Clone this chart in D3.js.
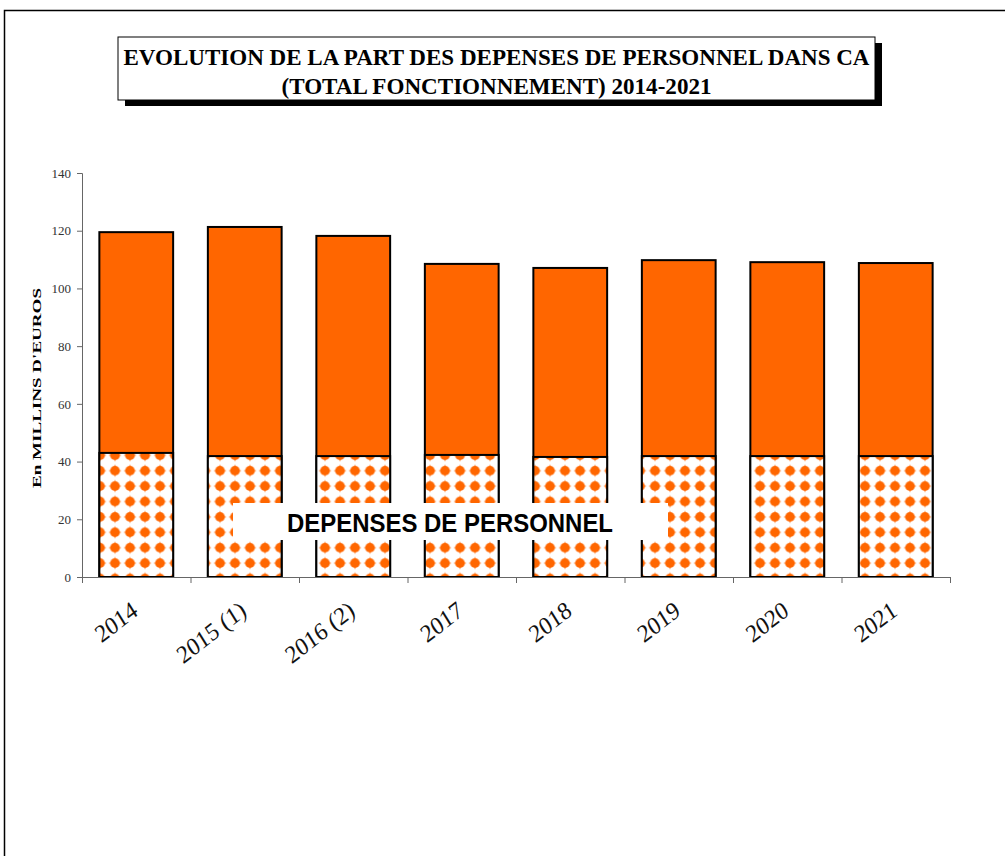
<!DOCTYPE html>
<html>
<head>
<meta charset="utf-8">
<script src="https://cdn.jsdelivr.net/npm/d3@7"></script>
<style>
  body { margin: 0; background: #fff; }
  svg { display: block; }
</style>
</head>
<body>
<svg id="chart" width="1005" height="856"></svg>
<script>

/*
 * DATA
 */

var years = ['2014', '2015 (1)', '2016 (2)', '2017', '2018', '2019', '2020', '2021'];
var totalFonctionnement = [119.5, 121.3, 118.2, 108.5, 107.1, 109.8, 109.1, 108.8];
var depensesPersonnel = [43.0, 41.9, 41.9, 42.3, 41.6, 41.9, 41.9, 41.9];
var yTicks = [0, 20, 40, 60, 80, 100, 120, 140];

var titleLines = ['EVOLUTION  DE LA PART DES DEPENSES DE PERSONNEL DANS CA', '(TOTAL FONCTIONNEMENT) 2014-2021'];
var yTitle = 'En  MILLINS  D\'EUROS';
var seriesLabel = 'DEPENSES  DE PERSONNEL';

/*
 * CONSTANTS
 */

var orange = '#ff6600';
var plot = { left: 82, right: 950, top: 173, bottom: 577 };

var svg = d3.select('#chart');

// fit a text to a given width (chart texts are squeezed like in the original)
function fitText(sel, width) {
  sel.attr('textLength', width).attr('lengthAdjust', 'spacingAndGlyphs');
}

/*
 * PATTERN (orange studs on white)
 */

var defs = svg.append('defs');
var pat = defs.append('pattern')
  .attr('id', 'dots')
  .attr('patternUnits', 'userSpaceOnUse')
  .attr('x', 92.5).attr('y', 1)
  .attr('width', 15).attr('height', 15.4);
pat.append('rect').attr('width', 15).attr('height', 15.4).attr('fill', '#fff');
pat.append('circle').attr('cx', 7.5).attr('cy', 7.7).attr('r', 4.9).attr('fill', orange);
pat.append('path')
  .attr('d', 'M7.5,1.2 L9,6.2 L14,7.7 L9,9.2 L7.5,14.2 L6,9.2 L1,7.7 L6,6.2 Z')
  .attr('fill', orange);

/*
 * FRAME & TITLE
 */

svg.append('rect')
  .attr('x', 4.5).attr('y', 10.5).attr('width', 1010).attr('height', 860)
  .attr('fill', 'none').attr('stroke', '#000').attr('stroke-width', 1.5);

var box = { x: 118, y: 37, w: 757, h: 63 };
svg.append('rect')
  .attr('x', box.x + 7).attr('y', box.y + 6).attr('width', box.w).attr('height', box.h)
  .attr('fill', '#000');
svg.append('rect')
  .attr('x', box.x).attr('y', box.y).attr('width', box.w).attr('height', box.h)
  .attr('fill', '#fff').attr('stroke', '#000').attr('stroke-width', 1);

var titleWidths = [746, 430];
titleLines.forEach(function (line, i) {
  svg.append('text')
    .attr('x', box.x + box.w / 2).attr('y', 65 + i * 29)
    .attr('text-anchor', 'middle')
    .style('font-family', '"Liberation Serif", "Times New Roman", serif')
    .style('font-weight', 'bold')
    .style('font-size', '24px')
    .text(line)
    .call(fitText, titleWidths[i]);
});

/*
 * SCALES & AXES
 */

var x = d3.scaleBand().domain(years).range([plot.left, plot.right]).paddingInner(0.32).paddingOuter(0.16);
var y = d3.scaleLinear().domain([0, 140]).range([plot.bottom, plot.top]);

var yAxis = svg.append('g')
  .attr('transform', 'translate(' + plot.left + ',0)')
  .call(d3.axisLeft(y).tickValues(yTicks).tickSize(5).tickPadding(6));
yAxis.select('.domain').attr('stroke', '#666');
yAxis.selectAll('.tick line').attr('stroke', '#666');
yAxis.selectAll('.tick text')
  .attr('fill', '#333')
  .style('font-family', '"Liberation Serif", "Times New Roman", serif')
  .style('font-size', '13px');

svg.append('text')
  .attr('transform', 'translate(41,388) rotate(-90)')
  .attr('text-anchor', 'middle')
  .style('font-family', '"Liberation Serif", "Times New Roman", serif')
  .style('font-weight', 'bold')
  .style('font-size', '12px')
  .text(yTitle)
  .call(fitText, 200);

/*
 * BARS
 */

var bars = svg.append('g');
bars.selectAll('rect.total')
  .data(years)
  .enter().append('rect')
  .attr('class', 'total')
  .attr('x', function (d) { return x(d); })
  .attr('width', x.bandwidth())
  .attr('y', function (d, i) { return y(totalFonctionnement[i]); })
  .attr('height', function (d, i) { return y(0) - y(totalFonctionnement[i]); })
  .attr('fill', orange)
  .attr('stroke', '#000').attr('stroke-width', 2);

bars.selectAll('rect.perso')
  .data(years)
  .enter().append('rect')
  .attr('class', 'perso')
  .attr('x', function (d) { return x(d); })
  .attr('width', x.bandwidth())
  .attr('y', function (d, i) { return y(depensesPersonnel[i]); })
  .attr('height', function (d, i) { return y(0) - y(depensesPersonnel[i]); })
  .attr('fill', 'url(#dots)')
  .attr('stroke', '#000').attr('stroke-width', 2);

// x axis drawn over bars bottom, ticks between categories
var xAxis = svg.append('g');
xAxis.append('line')
  .attr('x1', plot.left).attr('x2', plot.right)
  .attr('y1', plot.bottom + 0.5).attr('y2', plot.bottom + 0.5)
  .attr('stroke', '#666');
var step = x.step();
xAxis.selectAll('line.tick')
  .data(d3.range(years.length + 1))
  .enter().append('line')
  .attr('class', 'tick')
  .attr('x1', function (i) { return plot.left + i * step + 0.5; })
  .attr('x2', function (i) { return plot.left + i * step + 0.5; })
  .attr('y1', plot.bottom).attr('y2', plot.bottom + 6)
  .attr('stroke', '#666');

xAxis.selectAll('text')
  .data(years)
  .enter().append('text')
  .attr('transform', function (d) {
    return 'translate(' + (x(d) + x.bandwidth() / 2 + 3) + ',' + 614 + ') rotate(-38) skewX(-6)';
  })
  .attr('text-anchor', 'end')
  .style('font-family', '"Liberation Serif", "Times New Roman", serif')
  .style('font-size', '24px')
  .attr('fill', '#111')
  .text(function (d) { return d; });

/*
 * SERIES LABEL
 */

svg.append('rect')
  .attr('x', 233).attr('y', 503).attr('width', 435).attr('height', 37)
  .attr('fill', '#fff');
svg.append('text')
  .attr('x', 450).attr('y', 532)
  .attr('text-anchor', 'middle')
  .style('font-family', '"Liberation Sans", Arial, sans-serif')
  .style('font-weight', 'bold')
  .style('font-size', '25px')
  .text(seriesLabel)
  .call(fitText, 326);

</script>
</body>
</html>
